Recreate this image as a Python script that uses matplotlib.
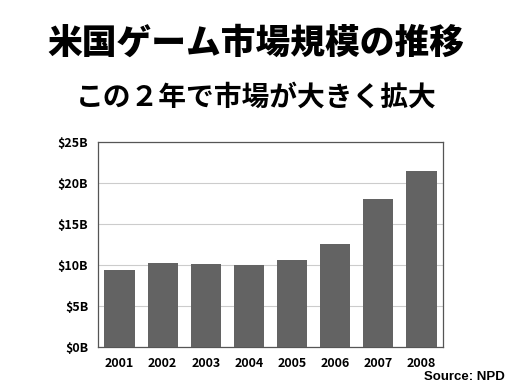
import matplotlib
matplotlib.use("Agg")
import matplotlib.pyplot as plt
import numpy as np

plt.rcParams['font.family'] = ['Noto Sans CJK JP', 'DejaVu Sans']

years = ["2001", "2002", "2003", "2004", "2005", "2006", "2007", "2008"]
sales_b = [9.45, 10.3, 10.1, 10.0, 10.55, 12.55, 18.05, 21.45]
y_ticks = [0, 5, 10, 15, 20, 25]
y_labels = ["$0B", "$5B", "$10B", "$15B", "$20B", "$25B"]

title = "米国ゲーム市場規模の推移"
subtitle = "この２年で市場が大きく拡大"
source = "Source: NPD"

fig = plt.figure(figsize=(5.12, 3.84), dpi=100)
ax = fig.add_axes([98 / 512, 1 - 347 / 384, 345 / 512, 205 / 384])

x = np.arange(len(years))
ax.bar(x, sales_b, width=0.7, color="#636363", zorder=3)

ax.set_xlim(-0.5, len(years) - 0.5)
ax.set_ylim(0, 25)
ax.set_yticks(y_ticks)
ax.set_yticklabels(y_labels)
ax.set_xticks(x)
ax.set_xticklabels(years)
ax.tick_params(length=0, labelsize=9, pad=7)
for lbl in ax.get_xticklabels() + ax.get_yticklabels():
    lbl.set_fontweight("bold")
ax.grid(axis="y", color="#cccccc", linewidth=0.8, zorder=0)
for s in ax.spines.values():
    s.set_color("#555555")
    s.set_linewidth(0.9)

fig.text(0.5, 1 - 43 / 384, title, ha="center", va="center",
         fontsize=25, fontweight="black")
fig.text(0.5, 1 - 98 / 384, subtitle, ha="center", va="center",
         fontsize=20, fontweight="bold")
fig.text(505 / 512, 1 - 377 / 384, source, ha="right", va="center",
         fontsize=9.5, fontweight="bold", family=["Liberation Sans", "DejaVu Sans"])

fig.savefig("out.png", dpi=100)
